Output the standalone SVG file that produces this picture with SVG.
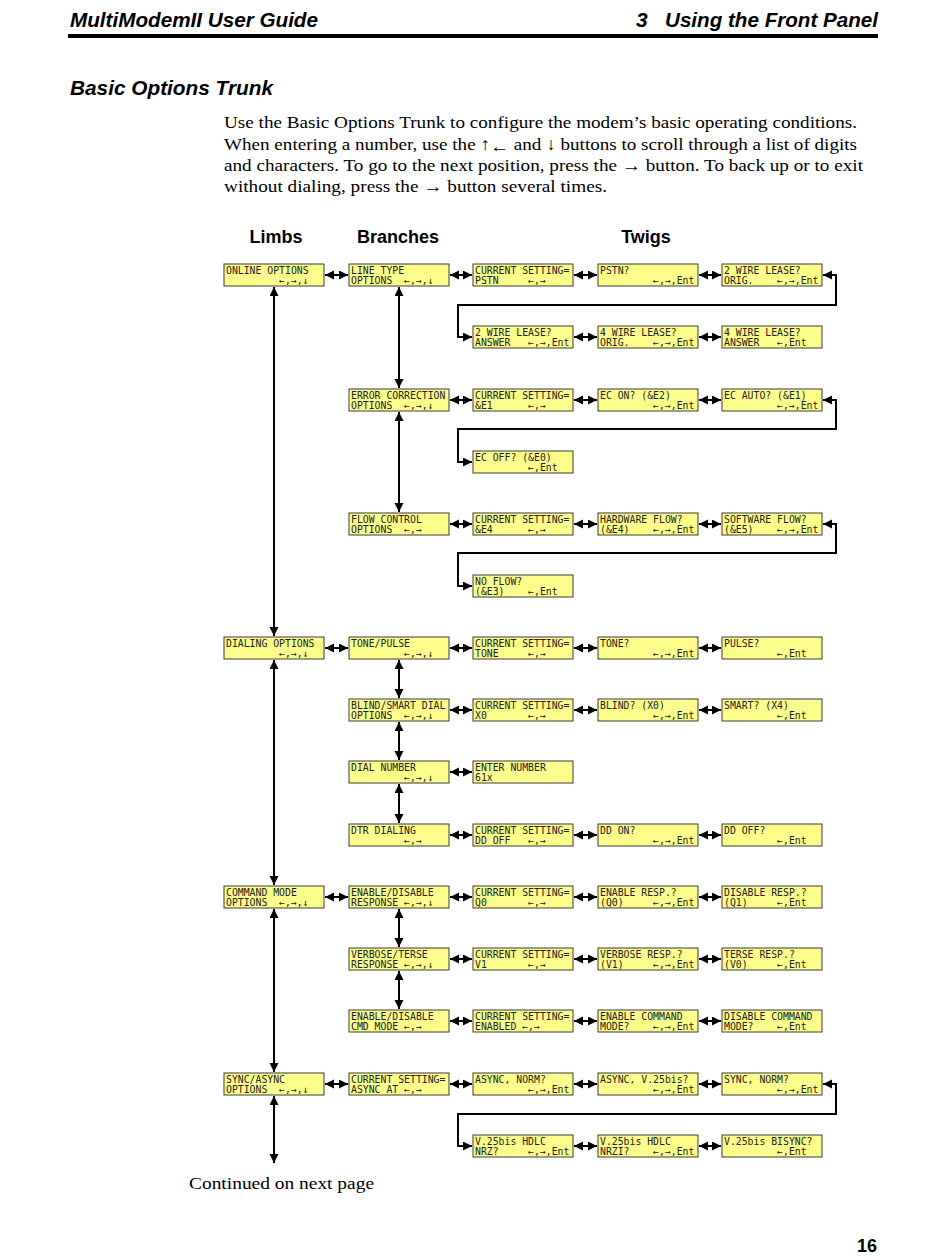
<svg xmlns="http://www.w3.org/2000/svg" width="950" height="1260" viewBox="0 0 950 1260" xml:space="preserve">
<style>
.b{fill:#fdfd8c;stroke:#3a3a3a;stroke-width:1}
.t{font-family:"DejaVu Sans Mono","Liberation Mono",monospace;font-size:9.8px;fill:#222;white-space:pre}
.c{fill:none;stroke:#000;stroke-width:2;marker-start:url(#ah);marker-end:url(#ah)}
.hd{font-family:"Liberation Sans",Arial,sans-serif;font-weight:bold;font-style:italic;font-size:21px;fill:#000}
.p{font-family:"Liberation Serif","Times New Roman",serif;font-size:17.5px;fill:#000}
.col{font-family:"Liberation Sans",Arial,sans-serif;font-weight:bold;font-size:18px;fill:#000}
</style>
<defs>
<marker id="ah" markerUnits="userSpaceOnUse" markerWidth="10" markerHeight="10" refX="9" refY="4.5" orient="auto-start-reverse" viewBox="0 0 10 10"><path d="M0,0 L9,4.5 L0,9 z" fill="#000"/></marker>
</defs>
<rect width="950" height="1260" fill="#fff"/>
<g id="header">
<text class="hd" x="70" y="27" textLength="248" lengthAdjust="spacingAndGlyphs">MultiModemII User Guide</text>
<text class="hd" x="636" y="27">3</text>
<text class="hd" x="665" y="27" textLength="213" lengthAdjust="spacingAndGlyphs">Using the Front Panel</text>
<rect x="68" y="34" width="810" height="4" fill="#000"/>
<text class="hd" x="70" y="95" textLength="203" lengthAdjust="spacingAndGlyphs">Basic Options Trunk</text>
</g>
<g id="intro">
<text class="p" x="224" y="128" textLength="633" lengthAdjust="spacingAndGlyphs">Use the Basic Options Trunk to configure the modem’s basic operating conditions.</text>
<text class="p" x="224" y="150" textLength="633" lengthAdjust="spacingAndGlyphs">When entering a number, use the ↑<tspan dy="2">←</tspan><tspan dy="-2"> and ↓ buttons to scroll through a list of digits</tspan></text>
<text class="p" x="224" y="171" textLength="639" lengthAdjust="spacingAndGlyphs">and characters. To go to the next position, press the → button. To back up or to exit</text>
<text class="p" x="224" y="192" textLength="383" lengthAdjust="spacingAndGlyphs">without dialing, press the → button several times.</text>
</g>
<g id="headings">
<text class="col" x="276" y="243" text-anchor="middle">Limbs</text>
<text class="col" x="398" y="243" text-anchor="middle">Branches</text>
<text class="col" x="646" y="243" text-anchor="middle">Twigs</text>
</g>
<g id="connectors">
<path class="c" d="M325 275 H348"/><path class="c" d="M450 275 H472"/><path class="c" d="M574 275 H597"/><path class="c" d="M699 275 H721"/>
<path class="c" d="M574 337 H597"/><path class="c" d="M699 337 H721"/>
<path class="c" d="M450 400 H472"/><path class="c" d="M574 400 H597"/><path class="c" d="M699 400 H721"/>
<path class="c" d="M450 524 H472"/><path class="c" d="M574 524 H597"/><path class="c" d="M699 524 H721"/>
<path class="c" d="M325 648 H348"/><path class="c" d="M450 648 H472"/><path class="c" d="M574 648 H597"/><path class="c" d="M699 648 H721"/>
<path class="c" d="M450 710 H472"/><path class="c" d="M574 710 H597"/><path class="c" d="M699 710 H721"/>
<path class="c" d="M450 772 H472"/>
<path class="c" d="M450 835 H472"/><path class="c" d="M574 835 H597"/><path class="c" d="M699 835 H721"/>
<path class="c" d="M325 897 H348"/><path class="c" d="M450 897 H472"/><path class="c" d="M574 897 H597"/><path class="c" d="M699 897 H721"/>
<path class="c" d="M450 959 H472"/><path class="c" d="M574 959 H597"/><path class="c" d="M699 959 H721"/>
<path class="c" d="M450 1021 H472"/><path class="c" d="M574 1021 H597"/><path class="c" d="M699 1021 H721"/>
<path class="c" d="M325 1084 H348"/><path class="c" d="M450 1084 H472"/><path class="c" d="M574 1084 H597"/><path class="c" d="M699 1084 H721"/>
<path class="c" d="M574 1146 H597"/><path class="c" d="M699 1146 H721"/>
<path class="c" d="M823 275 H836 V305 H458 V337 H472"/>
<path class="c" d="M823 400 H836 V429 H458 V462 H472"/>
<path class="c" d="M823 524 H836 V553 H458 V586 H472"/>
<path class="c" d="M823 1084 H836 V1114 H458 V1146 H472"/>
<path class="c" d="M274 287 V636"/><path class="c" d="M274 660 V885"/><path class="c" d="M274 909 V1072"/><path class="c" d="M274 1096 V1163"/>
<path class="c" d="M399 287 V388"/><path class="c" d="M399 412 V512"/>
<path class="c" d="M399 660 V698"/><path class="c" d="M399 722 V760"/><path class="c" d="M399 784 V823"/>
<path class="c" d="M399 909 V947"/><path class="c" d="M399 971 V1009"/>
</g>
<g id="n-online" transform="translate(224,264)"><rect class="b" width="100" height="22"/><text class="t" x="2" y="10">ONLINE OPTIONS</text><text class="t" x="2" y="19.5">         ←,→,↓</text></g>
<g id="n-linetype" transform="translate(349,264)"><rect class="b" width="100" height="22"/><text class="t" x="2" y="10">LINE TYPE</text><text class="t" x="2" y="19.5">OPTIONS  ←,→,↓</text></g>
<g id="n-lt-cur" transform="translate(473,264)"><rect class="b" width="100" height="22"/><text class="t" x="2" y="10">CURRENT SETTING=</text><text class="t" x="2" y="19.5">PSTN     ←,→</text></g>
<g id="n-pstn" transform="translate(598,264)"><rect class="b" width="100" height="22"/><text class="t" x="2" y="10">PSTN?</text><text class="t" x="2" y="19.5">         ←,→,Ent</text></g>
<g id="n-2wo" transform="translate(722,264)"><rect class="b" width="100" height="22"/><text class="t" x="2" y="10">2 WIRE LEASE?</text><text class="t" x="2" y="19.5">ORIG.    ←,→,Ent</text></g>
<g id="n-2wa" transform="translate(473,326)"><rect class="b" width="100" height="22"/><text class="t" x="2" y="10">2 WIRE LEASE?</text><text class="t" x="2" y="19.5">ANSWER   ←,→,Ent</text></g>
<g id="n-4wo" transform="translate(598,326)"><rect class="b" width="100" height="22"/><text class="t" x="2" y="10">4 WIRE LEASE?</text><text class="t" x="2" y="19.5">ORIG.    ←,→,Ent</text></g>
<g id="n-4wa" transform="translate(722,326)"><rect class="b" width="100" height="22"/><text class="t" x="2" y="10">4 WIRE LEASE?</text><text class="t" x="2" y="19.5">ANSWER   ←,Ent</text></g>
<g id="n-ec" transform="translate(349,389)"><rect class="b" width="100" height="22"/><text class="t" x="2" y="10">ERROR CORRECTION</text><text class="t" x="2" y="19.5">OPTIONS  ←,→,↓</text></g>
<g id="n-ec-cur" transform="translate(473,389)"><rect class="b" width="100" height="22"/><text class="t" x="2" y="10">CURRENT SETTING=</text><text class="t" x="2" y="19.5">&amp;E1      ←,→</text></g>
<g id="n-econ" transform="translate(598,389)"><rect class="b" width="100" height="22"/><text class="t" x="2" y="10">EC ON? (&amp;E2)</text><text class="t" x="2" y="19.5">         ←,→,Ent</text></g>
<g id="n-ecauto" transform="translate(722,389)"><rect class="b" width="100" height="22"/><text class="t" x="2" y="10">EC AUTO? (&amp;E1)</text><text class="t" x="2" y="19.5">         ←,→,Ent</text></g>
<g id="n-ecoff" transform="translate(473,451)"><rect class="b" width="100" height="22"/><text class="t" x="2" y="10">EC OFF? (&amp;E0)</text><text class="t" x="2" y="19.5">         ←,Ent</text></g>
<g id="n-flow" transform="translate(349,513)"><rect class="b" width="100" height="22"/><text class="t" x="2" y="10">FLOW CONTROL</text><text class="t" x="2" y="19.5">OPTIONS  ←,→</text></g>
<g id="n-flow-cur" transform="translate(473,513)"><rect class="b" width="100" height="22"/><text class="t" x="2" y="10">CURRENT SETTING=</text><text class="t" x="2" y="19.5">&amp;E4      ←,→</text></g>
<g id="n-hwflow" transform="translate(598,513)"><rect class="b" width="100" height="22"/><text class="t" x="2" y="10">HARDWARE FLOW?</text><text class="t" x="2" y="19.5">(&amp;E4)    ←,→,Ent</text></g>
<g id="n-swflow" transform="translate(722,513)"><rect class="b" width="100" height="22"/><text class="t" x="2" y="10">SOFTWARE FLOW?</text><text class="t" x="2" y="19.5">(&amp;E5)    ←,→,Ent</text></g>
<g id="n-noflow" transform="translate(473,575)"><rect class="b" width="100" height="22"/><text class="t" x="2" y="10">NO FLOW?</text><text class="t" x="2" y="19.5">(&amp;E3)    ←,Ent</text></g>
<g id="n-dialing" transform="translate(224,637)"><rect class="b" width="100" height="22"/><text class="t" x="2" y="10">DIALING OPTIONS</text><text class="t" x="2" y="19.5">         ←,→,↓</text></g>
<g id="n-tonepulse" transform="translate(349,637)"><rect class="b" width="100" height="22"/><text class="t" x="2" y="10">TONE/PULSE</text><text class="t" x="2" y="19.5">         ←,→,↓</text></g>
<g id="n-tp-cur" transform="translate(473,637)"><rect class="b" width="100" height="22"/><text class="t" x="2" y="10">CURRENT SETTING=</text><text class="t" x="2" y="19.5">TONE     ←,→</text></g>
<g id="n-tone" transform="translate(598,637)"><rect class="b" width="100" height="22"/><text class="t" x="2" y="10">TONE?</text><text class="t" x="2" y="19.5">         ←,→,Ent</text></g>
<g id="n-pulse" transform="translate(722,637)"><rect class="b" width="100" height="22"/><text class="t" x="2" y="10">PULSE?</text><text class="t" x="2" y="19.5">         ←,Ent</text></g>
<g id="n-blind" transform="translate(349,699)"><rect class="b" width="100" height="22"/><text class="t" x="2" y="10">BLIND/SMART DIAL</text><text class="t" x="2" y="19.5">OPTIONS  ←,→,↓</text></g>
<g id="n-bl-cur" transform="translate(473,699)"><rect class="b" width="100" height="22"/><text class="t" x="2" y="10">CURRENT SETTING=</text><text class="t" x="2" y="19.5">X0       ←,→</text></g>
<g id="n-blindq" transform="translate(598,699)"><rect class="b" width="100" height="22"/><text class="t" x="2" y="10">BLIND? (X0)</text><text class="t" x="2" y="19.5">         ←,→,Ent</text></g>
<g id="n-smart" transform="translate(722,699)"><rect class="b" width="100" height="22"/><text class="t" x="2" y="10">SMART? (X4)</text><text class="t" x="2" y="19.5">         ←,Ent</text></g>
<g id="n-dialnum" transform="translate(349,761)"><rect class="b" width="100" height="22"/><text class="t" x="2" y="10">DIAL NUMBER</text><text class="t" x="2" y="19.5">         ←,→,↓</text></g>
<g id="n-enternum" transform="translate(473,761)"><rect class="b" width="100" height="22"/><text class="t" x="2" y="10">ENTER NUMBER</text><text class="t" x="2" y="19.5">61x</text></g>
<g id="n-dtr" transform="translate(349,824)"><rect class="b" width="100" height="22"/><text class="t" x="2" y="10">DTR DIALING</text><text class="t" x="2" y="19.5">         ←,→</text></g>
<g id="n-dtr-cur" transform="translate(473,824)"><rect class="b" width="100" height="22"/><text class="t" x="2" y="10">CURRENT SETTING=</text><text class="t" x="2" y="19.5">DD OFF   ←,→</text></g>
<g id="n-ddon" transform="translate(598,824)"><rect class="b" width="100" height="22"/><text class="t" x="2" y="10">DD ON?</text><text class="t" x="2" y="19.5">         ←,→,Ent</text></g>
<g id="n-ddoff" transform="translate(722,824)"><rect class="b" width="100" height="22"/><text class="t" x="2" y="10">DD OFF?</text><text class="t" x="2" y="19.5">         ←,Ent</text></g>
<g id="n-cmdmode" transform="translate(224,886)"><rect class="b" width="100" height="22"/><text class="t" x="2" y="10">COMMAND MODE</text><text class="t" x="2" y="19.5">OPTIONS  ←,→,↓</text></g>
<g id="n-endresp" transform="translate(349,886)"><rect class="b" width="100" height="22"/><text class="t" x="2" y="10">ENABLE/DISABLE</text><text class="t" x="2" y="19.5">RESPONSE ←,→,↓</text></g>
<g id="n-er-cur" transform="translate(473,886)"><rect class="b" width="100" height="22"/><text class="t" x="2" y="10">CURRENT SETTING=</text><text class="t" x="2" y="19.5">Q0       ←,→</text></g>
<g id="n-enresp" transform="translate(598,886)"><rect class="b" width="100" height="22"/><text class="t" x="2" y="10">ENABLE RESP.?</text><text class="t" x="2" y="19.5">(Q0)     ←,→,Ent</text></g>
<g id="n-disresp" transform="translate(722,886)"><rect class="b" width="100" height="22"/><text class="t" x="2" y="10">DISABLE RESP.?</text><text class="t" x="2" y="19.5">(Q1)     ←,Ent</text></g>
<g id="n-verbose" transform="translate(349,948)"><rect class="b" width="100" height="22"/><text class="t" x="2" y="10">VERBOSE/TERSE</text><text class="t" x="2" y="19.5">RESPONSE ←,→,↓</text></g>
<g id="n-vb-cur" transform="translate(473,948)"><rect class="b" width="100" height="22"/><text class="t" x="2" y="10">CURRENT SETTING=</text><text class="t" x="2" y="19.5">V1       ←,→</text></g>
<g id="n-vbresp" transform="translate(598,948)"><rect class="b" width="100" height="22"/><text class="t" x="2" y="10">VERBOSE RESP.?</text><text class="t" x="2" y="19.5">(V1)     ←,→,Ent</text></g>
<g id="n-tsresp" transform="translate(722,948)"><rect class="b" width="100" height="22"/><text class="t" x="2" y="10">TERSE RESP.?</text><text class="t" x="2" y="19.5">(V0)     ←,Ent</text></g>
<g id="n-endcmd" transform="translate(349,1010)"><rect class="b" width="100" height="22"/><text class="t" x="2" y="10">ENABLE/DISABLE</text><text class="t" x="2" y="19.5">CMD MODE ←,→</text></g>
<g id="n-ec2-cur" transform="translate(473,1010)"><rect class="b" width="100" height="22"/><text class="t" x="2" y="10">CURRENT SETTING=</text><text class="t" x="2" y="19.5">ENABLED ←,→</text></g>
<g id="n-encmd" transform="translate(598,1010)"><rect class="b" width="100" height="22"/><text class="t" x="2" y="10">ENABLE COMMAND</text><text class="t" x="2" y="19.5">MODE?    ←,→,Ent</text></g>
<g id="n-discmd" transform="translate(722,1010)"><rect class="b" width="100" height="22"/><text class="t" x="2" y="10">DISABLE COMMAND</text><text class="t" x="2" y="19.5">MODE?    ←,Ent</text></g>
<g id="n-sync" transform="translate(224,1073)"><rect class="b" width="100" height="22"/><text class="t" x="2" y="10">SYNC/ASYNC</text><text class="t" x="2" y="19.5">OPTIONS  ←,→,↓</text></g>
<g id="n-sy-cur" transform="translate(349,1073)"><rect class="b" width="100" height="22"/><text class="t" x="2" y="10">CURRENT SETTING=</text><text class="t" x="2" y="19.5">ASYNC AT ←,→</text></g>
<g id="n-asnorm" transform="translate(473,1073)"><rect class="b" width="100" height="22"/><text class="t" x="2" y="10">ASYNC, NORM?</text><text class="t" x="2" y="19.5">         ←,→,Ent</text></g>
<g id="n-asv25" transform="translate(598,1073)"><rect class="b" width="100" height="22"/><text class="t" x="2" y="10">ASYNC, V.25bis?</text><text class="t" x="2" y="19.5">         ←,→,Ent</text></g>
<g id="n-synorm" transform="translate(722,1073)"><rect class="b" width="100" height="22"/><text class="t" x="2" y="10">SYNC, NORM?</text><text class="t" x="2" y="19.5">         ←,→,Ent</text></g>
<g id="n-nrz" transform="translate(473,1135)"><rect class="b" width="100" height="22"/><text class="t" x="2" y="10">V.25bis HDLC</text><text class="t" x="2" y="19.5">NRZ?     ←,→,Ent</text></g>
<g id="n-nrzi" transform="translate(598,1135)"><rect class="b" width="100" height="22"/><text class="t" x="2" y="10">V.25bis HDLC</text><text class="t" x="2" y="19.5">NRZI?    ←,→,Ent</text></g>
<g id="n-bisync" transform="translate(722,1135)"><rect class="b" width="100" height="22"/><text class="t" x="2" y="10">V.25bis BISYNC?</text><text class="t" x="2" y="19.5">         ←,Ent</text></g>
<g id="footer">
<text class="p" x="189" y="1189" textLength="185" lengthAdjust="spacingAndGlyphs">Continued on next page</text>
<text class="col" x="877" y="1252" text-anchor="end">16</text>
</g>
</svg>
